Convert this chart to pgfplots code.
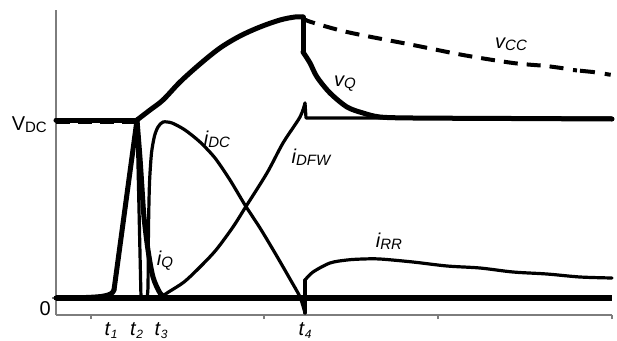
\documentclass[border=0pt]{standalone}
\usepackage{pgfplots}
\pgfplotsset{compat=1.18}
\usepackage{fontspec}
\setmainfont{Liberation Sans}
\definecolor{axgray}{RGB}{125,125,125}
% subscript: smaller, slightly lowered
\newcommand{\sub}[1]{\raisebox{-2bp}{\fontsize{15bp}{15bp}\selectfont #1}}
\newcommand{\tsub}[1]{\textit{t}\raisebox{-3bp}{\fontsize{12bp}{12bp}\selectfont\textit{#1}}}
\tikzset{
  lab/.style={inner sep=0pt, font=\fontsize{20bp}{24bp}\selectfont},
  thickcurve/.style={black, line width=5bp, line join=round, line cap=round},
  thincurve/.style={black, line width=3.2bp, line join=round, line cap=round},
}

\begin{document}
\begin{tikzpicture}
\begin{axis}[
  x=1bp, y=1bp,
  xmin=0, xmax=556, ymin=-17, ymax=288,
  axis lines=left,
  axis line style={-, draw=axgray, line width=1.2bp},
  xtick={35,208,382,556}, ytick={0},
  xticklabels={}, yticklabels={},
  tick align=outside,
  major tick length=4bp,
  tick style={axgray, line width=1.2bp},
  clip=false,
]
% zero-current baseline
\addplot[black, line width=6bp, line cap=butt] coordinates {(0,0) (556,0)};

% i_Q: slow start, linear rise to peak at t2, fast fall to zero at t3
\addplot[thickcurve, smooth, tension=0.5] coordinates {(0,0) (30,0.5) (45,1.5) (52,3) (56,5) (58,8)};
\addplot[thickcurve] coordinates {(58,8) (81,178)};
\addplot[thickcurve, smooth, tension=0.5] coordinates {(81,178) (84,140) (86,110) (88,81) (92,48) (97,21) (104,5) (110,0) (118,0)};

% v_Q: V_DC level, rise after t2, peak, drop at t4 and settle back
\addplot[thickcurve] coordinates {(0,178) (81,178)};
\addplot[thickcurve, smooth, tension=0.55] coordinates {(81,178) (94,188) (107,198) (124,216) (144,234) (164,250) (184,262) (204,271) (224,278) (239,281) (247,281)};
\addplot[thickcurve] coordinates {(247,281) (247,246)};
\addplot[thickcurve, smooth, tension=0.5] coordinates {(247,246) (254,235) (261,221) (274,205) (291,191) (307,185) (324,181) (357,180) (456,179.5) (556,179)};

% v_CC: follows v_Q up to the peak, then decays slowly
\addplot[black, line width=4bp, dash pattern=on 14bp off 8bp] coordinates {(0,176) (81,176)};
\addplot[black, line width=4bp, dash pattern=on 14bp off 9bp, smooth, tension=0.5] coordinates {(247,281) (252,277) (291,266) (357,253) (407,243) (457,235) (490,232) (512,229)};
\addplot[black, line width=4bp, dash pattern=on 4bp off 3bp on 15bp off 10bp on 6bp off 10bp] coordinates {(517,228) (537,226) (556,223)};

% i_DC
\addplot[thincurve] coordinates {(81,178) (85,0) (91,0)};
\addplot[thincurve, smooth, tension=0.45] coordinates {(91,0) (92,12) (92.5,70) (93.5,115) (95.5,145) (98.5,162) (102,171) (107,176) (116,175) (129,168) (144,156) (159,140) (174,118) (189,93) (204,70) (219,45) (234,19) (244,1) (249,-15)};
\addplot[thincurve] coordinates {(249,-15) (249,18)};
% i_RR tail after t4
\addplot[thincurve, smooth, tension=0.5] coordinates {(249,18) (257,26) (274,35) (291,38) (307,39) (324,39) (357,36) (391,32) (424,30) (457,26) (491,24) (524,21) (556,20)};

% i_DFW
\addplot[thincurve, smooth, tension=0.5] coordinates {(104,0) (111,5) (128,16) (144,31) (160,48) (177,71) (189,90) (211,125) (227,155) (244,181) (249,195)};
\addplot[thincurve] coordinates {(249,195) (250,180) (556,180)};

% curve labels
\node[lab, anchor=base] at (axis cs:455,250) {\textit{v\sub{CC}}};
\node[lab, anchor=base] at (axis cs:289,212) {\textit{v\sub{Q}}};
\node[lab, anchor=base] at (axis cs:161,153) {\textit{i\sub{DC}}};
\node[lab, anchor=base] at (axis cs:255,135) {\textit{i\sub{DFW}}};
\node[lab, anchor=base] at (axis cs:109,33) {\textit{i\sub{Q}}};
\node[lab, anchor=base] at (axis cs:333,51) {\textit{i\sub{RR}}};

% level labels
\node[lab, anchor=base east] at (axis cs:-9,168) {V\sub{DC}};
\node[lab, anchor=base east] at (axis cs:-5,-17) {0};

% time instants
\node[lab, anchor=base] at (axis cs:55,-37) {\tsub{1}};
\node[lab, anchor=base] at (axis cs:80.5,-37) {\tsub{2}};
\node[lab, anchor=base] at (axis cs:105,-37) {\tsub{3}};
\node[lab, anchor=base] at (axis cs:249,-37) {\tsub{4}};

% picture extent
\path (axis cs:-56,-42) rectangle (axis cs:561,298);
\end{axis}
\end{tikzpicture}
\end{document}
